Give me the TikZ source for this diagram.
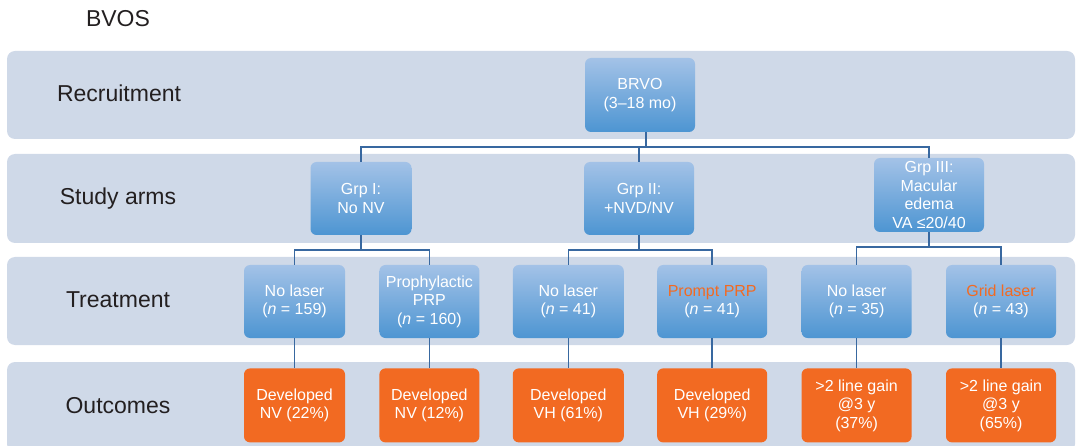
\documentclass[tikz,border=0pt]{standalone}
\usepackage{fontspec}
\setmainfont{Liberation Sans}
\usepackage{tikz}
\usetikzlibrary{positioning,calc}

\definecolor{bandblue}{HTML}{CFD9E8}
\definecolor{boxtop}{HTML}{A3C2E7}
\definecolor{boxbot}{HTML}{4D95D2}
\definecolor{outorange}{HTML}{F26A22}
\definecolor{linkblue}{HTML}{3868A0}
\definecolor{labelgray}{HTML}{231F20}
\newcommand{\nn}[1]{(\textit{n} = #1)}
\newcommand{\hl}[1]{\textcolor{outorange}{#1}}

\begin{document}
\begin{tikzpicture}[
  x=1pt, y=-1pt,
  band/.style={fill=bandblue, rounded corners=8pt},
  rowlabel/.style={anchor=base, text=labelgray, font=\fontsize{23}{27}\selectfont},
  box/.style={rounded corners=6pt, text=white, align=center,
              inner xsep=3pt, inner ysep=1pt, minimum height=73pt,
              font=\fontsize{16}{18.5}\selectfont},
  armbox/.style={box, top color=boxtop, bottom color=boxbot},
  outbox/.style={box, fill=outorange, minimum height=74pt},
  narrow/.style={minimum width=101pt},
  wide/.style={minimum width=110pt},
  link/.style={draw=linkblue, line width=1.6pt}
]
\useasboundingbox (0,0) rectangle (1076,446);

% row bands
\fill[band] (7,51) rectangle (1075,139);
\fill[band] (7,154) rectangle (1075,243);
\fill[band] (7,257) rectangle (1075,345);
\fill[band] (7,362) rectangle (1075,452);

\node[rowlabel] (title) at (118,27) {BVOS};
\node[rowlabel] (lrecr) at (119,102) {Recruitment};
\node[rowlabel] (larms) at (118,205) {Study arms};
\node[rowlabel] (ltreat) at (118,308) {Treatment};
\node[rowlabel] (lout) at (118,413) {Outcomes};

% recruitment and study arms
\node[armbox, wide, minimum height=74pt] (brvo) at (640,95) {BRVO\\(3--18 mo)};
\node[armbox, narrow] (g1) at (361,198.5) {Grp I:\\No NV};
\node[armbox, wide] (g2) at (639,198.5) {Grp II:\\+NVD/NV};
\node[armbox, wide, minimum height=74pt] (g3) at (929,195) {Grp III:\\Macular\\edema\\VA ≤20/40};

% treatment
\node[armbox, narrow] (t1) at (294.5,301.5) {No laser\\\nn{159}};
\node[armbox, minimum width=100pt, right=34pt of t1] (t2) {Prophylactic\\PRP\\\nn{160}};
\node[armbox, minimum width=111pt, right=33pt of t2] (t3) {No laser\\\nn{41}};
\node[armbox, wide, right=33pt of t3] (t4) {\hl{Prompt PRP}\\\nn{41}};
\node[armbox, wide, right=34pt of t4] (t5) {No laser\\\nn{35}};
\node[armbox, wide, right=34pt of t5] (t6) {\hl{Grid laser}\\\nn{43}};

% outcomes
\node[outbox, narrow, below=30pt of t1] (o1) {Developed\\NV (22\%)};
\node[outbox, minimum width=100pt, below=30pt of t2] (o2) {Developed\\NV (12\%)};
\node[outbox, minimum width=111pt, below=30pt of t3] (o3) {Developed\\VH (61\%)};
\node[outbox, wide, below=30pt of t4] (o4) {Developed\\VH (29\%)};
\node[outbox, wide, below=30pt of t5] (o5) {>2 line gain\\@3 y\\(37\%)};
\node[outbox, wide, below=30pt of t6] (o6) {>2 line gain\\@3 y\\(65\%)};

% connectors
\coordinate (split) at (646,147);
\draw[link] (brvo.south -| split) -- (split);
\draw[link] (g1.north) |- (split) -| (g3.north);
\draw[link] (g2.north) -- (g2.north |- split);
\foreach \g/\a/\b in {g1/t1/t2, g2/t3/t4, g3/t5/t6} {
  \draw[link] (\g.south) -- ++(0,15) -| (\a.north);
  \draw[link] (\g.south) ++(0,15) -| (\b.north);
}
\foreach \i in {1,...,6}
  \draw[link] (t\i.south) -- (o\i.north);
\end{tikzpicture}
\end{document}
